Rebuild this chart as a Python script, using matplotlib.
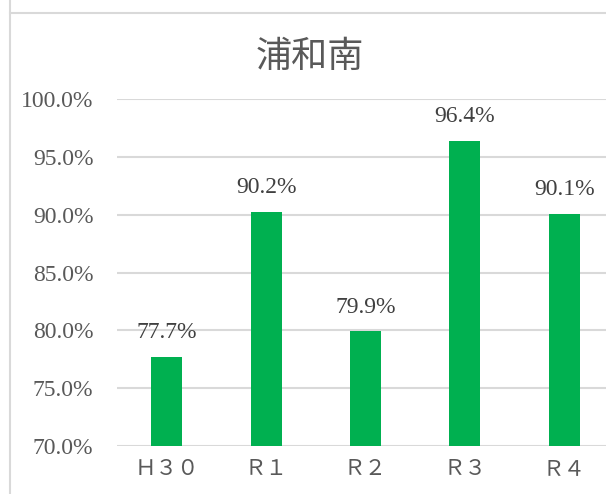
import matplotlib
matplotlib.use("Agg")
import matplotlib.pyplot as plt
from matplotlib.lines import Line2D
from matplotlib.ticker import FuncFormatter

# chart data
title = "浦和南"
categories = ["Ｈ３０", "Ｒ１", "Ｒ２", "Ｒ３", "Ｒ４"]
values = [77.7, 90.2, 79.9, 96.4, 90.1]

bar_color = "#00B050"
text_color = "#595959"
grid_color = "#D9D9D9"
fonts = ["Liberation Serif", "Noto Sans CJK JP"]

fig = plt.figure(figsize=(6.06, 4.94), dpi=100)
ax = fig.add_axes([117 / 606, 48 / 494, 497 / 606, 347 / 494])

x = range(len(categories))
ax.bar(x, [v - 70 for v in values], bottom=70, width=0.31, color=bar_color, zorder=3)

ax.set_xlim(-0.5, len(categories) - 0.5)
ax.set_ylim(70, 100)
ax.set_yticks([70, 75, 80, 85, 90, 95, 100])
ax.yaxis.set_major_formatter(FuncFormatter(lambda v, p: f"{v:.1f}%"))
ax.set_xticks(list(x))
ax.set_xticklabels(categories)

for lbl in ax.get_yticklabels():
    lbl.set_fontfamily(fonts)
    lbl.set_fontsize(17)
    lbl.set_color(text_color)
for lbl in ax.get_xticklabels():
    lbl.set_fontfamily(fonts)
    lbl.set_fontsize(15.5)
    lbl.set_color(text_color)

ax.tick_params(axis="both", length=0)
ax.tick_params(axis="y", pad=17)
ax.tick_params(axis="x", pad=11)
ax.grid(axis="y", color=grid_color, linewidth=1.5, zorder=0)
for s in ax.spines.values():
    s.set_visible(False)

for xi, v in zip(x, values):
    ax.annotate(f"{v:.1f}%", (xi, v), xytext=(0, 10), textcoords="offset points",
                ha="center", va="bottom", fontsize=17, family=fonts, color="#404040")

fig.text(310 / 606, 1 - 57 / 494, title, ha="center", va="center",
         fontsize=26, family=["Noto Sans CJK JP"], color=text_color)

# cell borders of the sheet behind the chart
fig.add_artist(Line2D([10 / 606, 10 / 606], [0, 1], color=grid_color, linewidth=1.5))
fig.add_artist(Line2D([10 / 606, 1], [1 - 13 / 494, 1 - 13 / 494], color=grid_color, linewidth=1.5))

fig.savefig("out.png", dpi=100)
